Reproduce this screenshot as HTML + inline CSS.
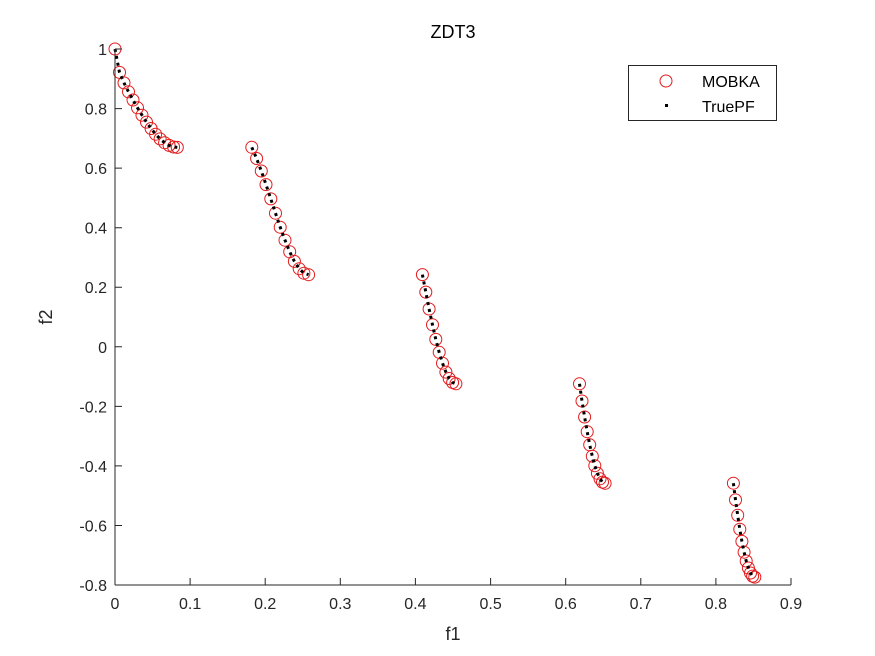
<!DOCTYPE html>
<html><head><meta charset="utf-8"><style>
body{margin:0;background:#fff;}
svg{display:block;font-family:"Liberation Sans",Arial,sans-serif;}
</style></head><body>
<svg width="875" height="656" viewBox="0 0 875 656" xmlns="http://www.w3.org/2000/svg">
<defs>
<marker id="c" markerUnits="userSpaceOnUse" markerWidth="16" markerHeight="16" refX="8" refY="8" overflow="visible">
<circle cx="8" cy="8" r="6" fill="none" stroke="#e41a1c" stroke-width="1"/>
</marker>
</defs>
<rect width="875" height="656" fill="#fff"/>
<g fill="none" stroke="none" marker-start="url(#c)" marker-mid="url(#c)" marker-end="url(#c)">
<polyline points="115,49 119.5,72.4 124,82.9 128.5,91.8 133,100 137.5,107.8 142,115.2 146.5,122.1 151.1,128.5 155.6,134.2 160.1,138.9 164.6,142.7 169.1,145.4 173.6,147 177.3,147.4"/>
<polyline points="251.8,147.3 256.6,158.5 261.3,171 266,184.6 270.8,198.9 275.5,213.2 280.2,227.2 285,240.2 289.7,251.8 294.4,261.4 299.2,268.7 303.9,273.2 308.6,274.7"/>
<polyline points="422.4,274.6 425.8,292.1 429.1,309 432.5,324.8 435.8,339.4 439.2,352.3 442.5,363.2 445.9,372.1 449.2,378.5 452.6,382.5 455.9,383.8"/>
<polyline points="579.5,383.8 582,401 584.6,417 587.2,431.7 589.7,444.8 592.3,456.2 594.8,465.7 597.4,473.3 600,478.8 602.5,482.1 605.1,483.3"/>
<polyline points="733.4,483.2 735.5,499.9 737.7,515.3 739.8,529.2 741.9,541.4 744.1,552.2 746.2,561 748.4,568 750.5,573 752.6,576.1 754.8,577.1"/>
</g>
<g fill="none" stroke="#000" stroke-width="3" stroke-dasharray="3 4">
<polyline points="115,49 119.5,72.4 124,82.9 128.5,91.8 133,100 137.5,107.8 142,115.2 146.5,122.1 151.1,128.5 155.6,134.2 160.1,138.9 164.6,142.7 169.1,145.4 173.6,147 177.3,147.4"/>
<polyline points="251.8,147.3 256.6,158.5 261.3,171 266,184.6 270.8,198.9 275.5,213.2 280.2,227.2 285,240.2 289.7,251.8 294.4,261.4 299.2,268.7 303.9,273.2 308.6,274.7"/>
<polyline points="422.4,274.6 425.8,292.1 429.1,309 432.5,324.8 435.8,339.4 439.2,352.3 442.5,363.2 445.9,372.1 449.2,378.5 452.6,382.5 455.9,383.8"/>
<polyline points="579.5,383.8 582,401 584.6,417 587.2,431.7 589.7,444.8 592.3,456.2 594.8,465.7 597.4,473.3 600,478.8 602.5,482.1 605.1,483.3"/>
<polyline points="733.4,483.2 735.5,499.9 737.7,515.3 739.8,529.2 741.9,541.4 744.1,552.2 746.2,561 748.4,568 750.5,573 752.6,576.1 754.8,577.1"/>
</g>
<g stroke="#262626" stroke-width="1" fill="none">
<line x1="115" y1="585" x2="791" y2="585"/>
<line x1="115" y1="49" x2="115" y2="585"/>
<path d="M115,585v-7M190.1,585v-7M265.2,585v-7M340.3,585v-7M415.4,585v-7M490.6,585v-7M565.7,585v-7M640.8,585v-7M715.9,585v-7M791,585v-7"/>
<path d="M115,49h7M115,108.6h7M115,168.1h7M115,227.7h7M115,287.2h7M115,346.8h7M115,406.4h7M115,465.9h7M115,525.5h7M115,585h7"/>
</g>
<g fill="#262626" font-size="16" text-anchor="middle">
<text x="115" y="609">0</text><text x="190.1" y="609">0.1</text><text x="265.2" y="609">0.2</text><text x="340.3" y="609">0.3</text><text x="415.4" y="609">0.4</text><text x="490.6" y="609">0.5</text><text x="565.7" y="609">0.6</text><text x="640.8" y="609">0.7</text><text x="715.9" y="609">0.8</text><text x="791" y="609">0.9</text>
</g>
<g fill="#262626" font-size="16" text-anchor="end">
<text x="107" y="55">1</text><text x="107" y="114.6">0.8</text><text x="107" y="174.1">0.6</text><text x="107" y="233.7">0.4</text><text x="107" y="293.2">0.2</text><text x="107" y="352.8">0</text><text x="107" y="412.4">-0.2</text><text x="107" y="471.9">-0.4</text><text x="107" y="531.5">-0.6</text><text x="107" y="591">-0.8</text>
</g>
<text x="453" y="38" font-size="18" text-anchor="middle" fill="#000">ZDT3</text>
<text x="453" y="640" font-size="18" text-anchor="middle" fill="#262626">f1</text>
<text x="52" y="317" font-size="18" text-anchor="middle" fill="#262626" transform="rotate(-90 52 317)">f2</text>
<rect x="628.5" y="65.5" width="148" height="55" fill="#fff" stroke="#262626" stroke-width="1"/>
<circle cx="666" cy="81" r="6" fill="none" stroke="#e41a1c" stroke-width="1"/>
<rect x="665" y="104" width="3" height="3" fill="#000"/>
<text x="702" y="87" font-size="16" fill="#000">MOBKA</text>
<text x="702" y="112" font-size="16" fill="#000">TruePF</text>
</svg>
</body></html>
